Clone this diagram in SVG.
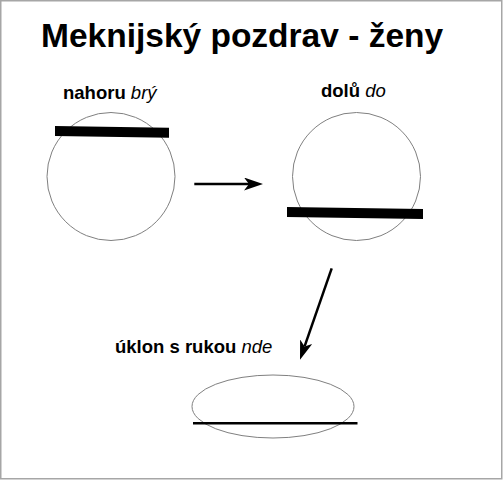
<svg xmlns="http://www.w3.org/2000/svg" width="503" height="480" viewBox="0 0 503 480">
<style>
.t{font-family:"Liberation Sans",Arial,sans-serif;font-weight:bold;fill:#000}
.lbl{font-family:"Liberation Sans",Arial,sans-serif;font-weight:bold;font-size:18.5px;fill:#000}
.it{font-style:italic;font-weight:normal}
.shape{fill:none;stroke:#808080;stroke-width:1}
.bar{fill:#000}
.conn{stroke:#000;stroke-width:2.5;fill:none}
</style>
<defs>
<marker id="ah" viewBox="0 0 19 13" refX="5" refY="6.5" markerWidth="19" markerHeight="13" markerUnits="userSpaceOnUse" orient="auto">
<path d="M0,0 L19,6.5 L0,13 L5,6.5 z" fill="#000"/>
</marker>
</defs>
<rect x="0.75" y="0.75" width="501" height="478" fill="#fff" stroke="#a6a6a6" stroke-width="1.5"/>
<g id="title">
<text class="t" x="41" y="47" font-size="33.5">Meknijský pozdrav - ženy</text>
</g>
<g id="nahoru">
<text class="lbl" x="63" y="99.3">nahoru <tspan class="it">brý</tspan></text>
<circle class="shape" cx="111" cy="176.5" r="64"/>
<polygon class="bar" points="55,126 169,127.7 169,137.7 55,136"/>
</g>
<g id="dolu">
<text class="lbl" x="321" y="96.7">dolů <tspan class="it">do</tspan></text>
<circle class="shape" cx="356.5" cy="176.5" r="64"/>
<polygon class="bar" points="287,207 423,209 423,219 287,217"/>
</g>
<g id="uklon">
<text class="lbl" x="115" y="353.3">úklon s rukou <tspan class="it">nde</tspan></text>
<ellipse class="shape" cx="273" cy="406.5" rx="81" ry="31.5"/>
<line x1="193" y1="423.3" x2="357.5" y2="423.3" stroke="#000" stroke-width="2.5"/>
</g>
<g id="connectors">
<line class="conn" x1="194.3" y1="184" x2="249" y2="184" marker-end="url(#ah)"/>
<line class="conn" x1="331.7" y1="268.3" x2="304.6" y2="346.4" marker-end="url(#ah)"/>
</g>
</svg>
